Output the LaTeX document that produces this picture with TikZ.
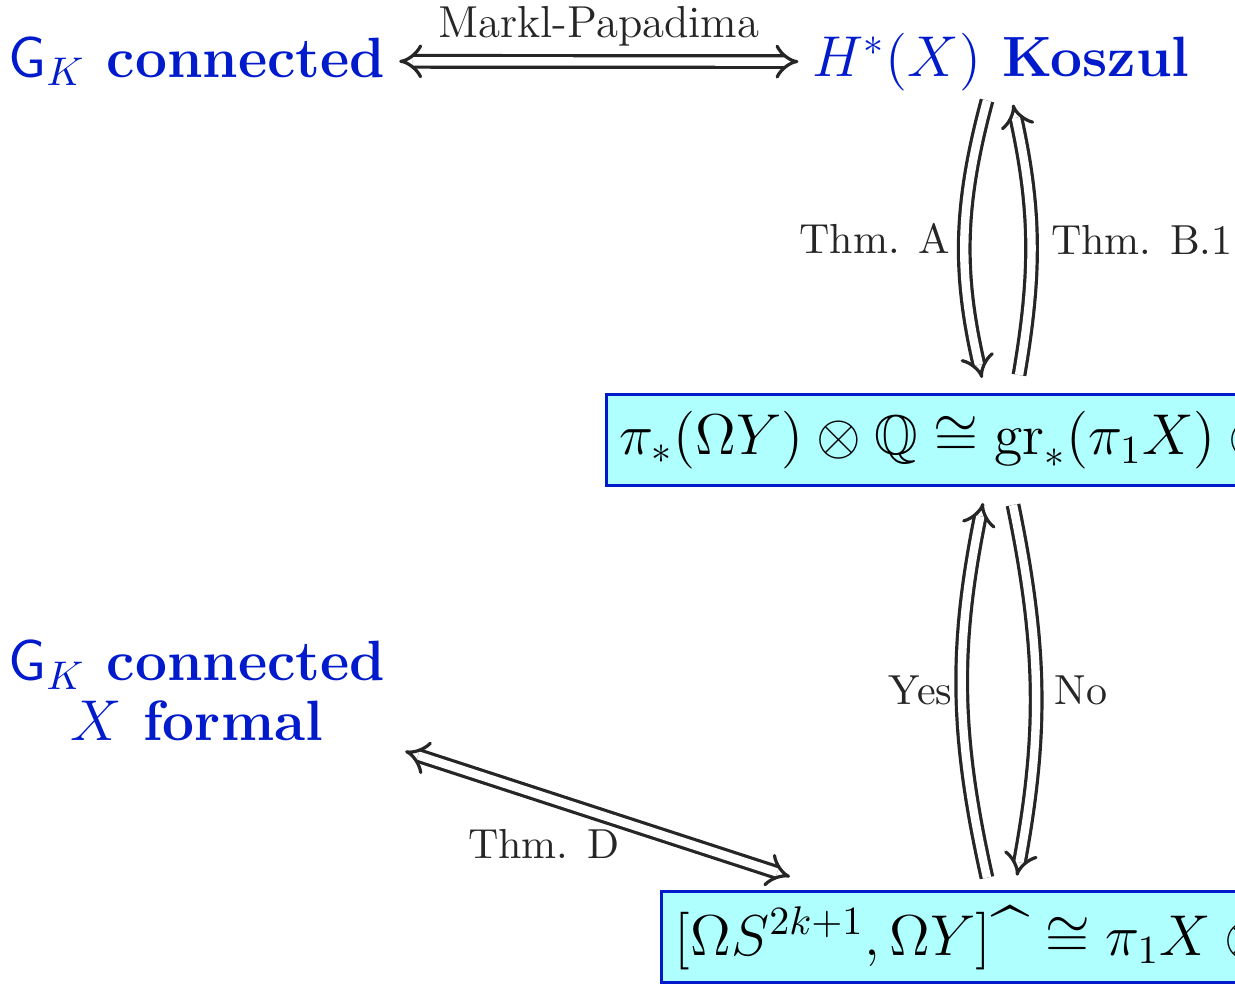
\documentclass[tikz,border=0pt]{standalone}
\usepackage{amssymb}
\usetikzlibrary{arrows.meta,positioning,calc}
\definecolor{thmblue}{RGB}{0,26,204}
\definecolor{boxfill}{RGB}{176,255,255}
\tikzset{
  goal/.style={text=thmblue, font=\fontsize{14.2}{15}\selectfont\bfseries},
  result/.style={draw=thmblue, line width=0.75pt, fill=boxfill, anchor=west,
    font=\fontsize{14}{17}\selectfont, minimum height=22.75pt},
  equiv/.style={double, double distance=2.1pt, line width=0.8pt, draw=black!85, {Implies}-{Implies}},
  impl/.style={double, double distance=2.1pt, line width=0.8pt, draw=black!85, -{Implies}},
  lab/.style={font=\fontsize{10.5}{12}\selectfont, text=black!85},
}
\newcommand{\complhat}{\mbox{\fontsize{17}{17}\selectfont\textasciicircum}}
\begin{document}
\begin{tikzpicture}[x=0.25pt, y=-0.25pt]
  \useasboundingbox (0,0) rectangle (1235,987);
  % top row
  \node[goal, anchor=base] (gkconn) at (197,77) {$\mathsf{G}_K$ connected};
  \node[goal, anchor=base] (koszul) at (1001,76) {$H^*(X)$ Koszul};
  % the two boxes, cut by the right edge
  \node[result] (lie) at (605,440) {$\pi_*(\Omega Y)\otimes\mathbb{Q}\cong\mathrm{gr}_*(\pi_1X)\otimes\mathbb{Q}$};
  \node[result] (whit) at (660,937) {$[\Omega S^{2k+1},\Omega Y]\complhat\cong\pi_1X\otimes\mathbb{Q}$};
  % lower left
  \node[goal, align=center] (formal) at (197,691) {$\mathsf{G}_K$ connected\\$X$ formal};
  % arrows
  \draw[equiv] (gkconn.east) -- node[lab, above, font=\fontsize{11.2}{13}\selectfont] {Markl-Papadima} (koszul.west);
  \draw[impl] ([xshift=-3.5pt,yshift=1pt]koszul.south) to[bend right=14]
    node[lab, left] {Thm. A} ([xshift=94.25pt,yshift=3.75pt]lie.north west);
  \draw[impl] ([xshift=103.5pt,yshift=4.5pt]lie.north west) to[bend right=11]
    node[lab, right, xshift=1.25pt] {Thm. B.1} ([xshift=3pt,yshift=0pt]koszul.south);
  \draw[impl] ([xshift=81.75pt,yshift=3pt]whit.north west) to[bend left=12]
    node[lab, left, xshift=1.25pt] {Yes} ([xshift=94.5pt,yshift=-4pt]lie.south west);
  \draw[impl] ([xshift=102pt,yshift=-4.5pt]lie.south west) to[bend left=11]
    node[lab, right, xshift=1pt] {No} ([xshift=89.25pt,yshift=3.5pt]whit.north west);
  \draw[equiv] ([xshift=1.5pt,yshift=1pt]formal.south east) -- node[lab, pos=0.36, below=4.5pt] {Thm. D}
    ([xshift=32.5pt,yshift=3.25pt]whit.north west);
\end{tikzpicture}
\end{document}
